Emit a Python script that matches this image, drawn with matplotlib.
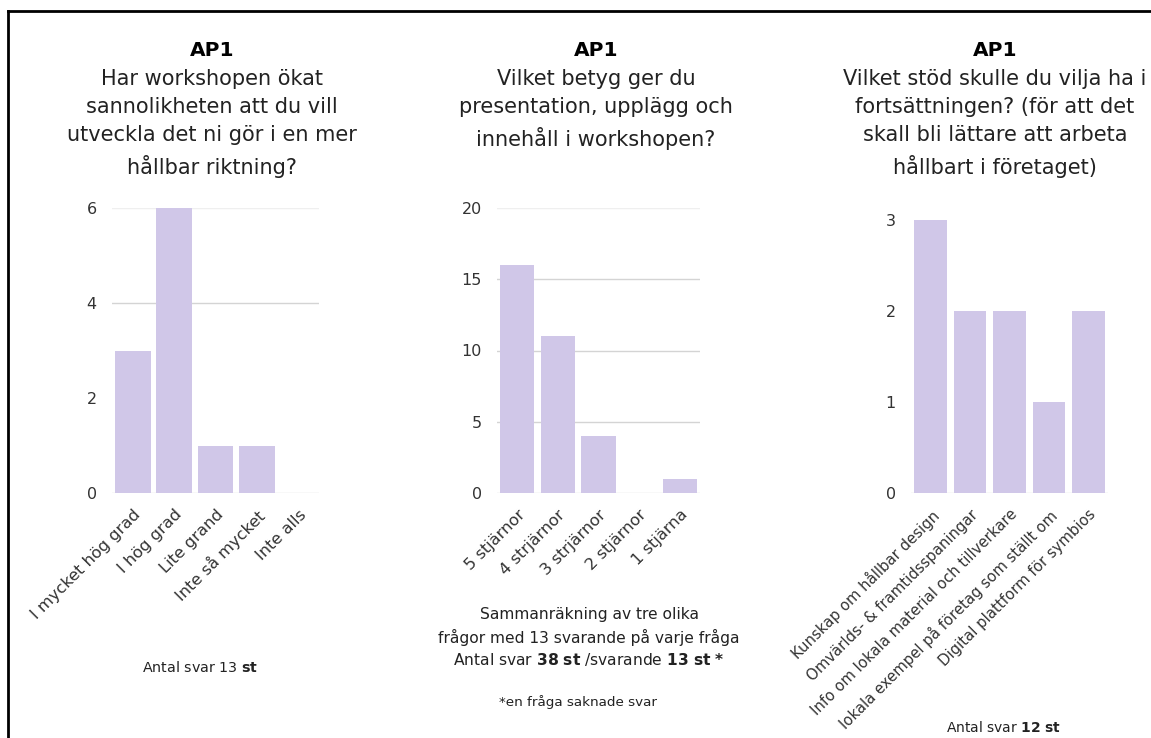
import matplotlib.pyplot as plt
from matplotlib.lines import Line2D

plt.rcParams['font.family'] = ['DejaVu Sans']
plt.rcParams['mathtext.fontset'] = 'custom'
plt.rcParams['mathtext.rm'] = 'DejaVu Sans'
plt.rcParams['mathtext.bf'] = 'DejaVu Sans:bold'

# --- data ---
q1_labels = ['I mycket hög grad', 'I hög grad', 'Lite grand', 'Inte så mycket', 'Inte alls']
q1_values = [3, 6, 1, 1, 0]
q1_ticks = [0, 2, 4, 6]

q2_labels = ['5 stjärnor', '4 strjärnor', '3 strjärnor', '2 stjärnor', '1 stjärna']
q2_values = [16, 11, 4, 0, 1]
q2_ticks = [0, 5, 10, 15, 20]

q3_labels = ['Kunskap om hållbar design', 'Omvärlds- & framtidsspaningar',
             'Info om lokala material och tillverkare',
             'lokala exempel på företag som ställt om',
             'Digital plattform för symbios']
q3_values = [3, 2, 2, 1, 2]
q3_ticks = [0, 1, 2, 3]

titles = [
    'Har workshopen ökat\nsannolikheten att du vill\nutveckla det ni gör i en mer\nhållbar riktning?',
    'Vilket betyg ger du\npresentation, upplägg och\ninnehåll i workshopen?',
    'Vilket stöd skulle du vilja ha i\nfortsättningen? (för att det\nskall bli lättare att arbeta\nhållbart i företaget)',
]

bar_col = '#d0c7e8'
txt_col = '#222222'
W, H = 1151, 738

fig = plt.figure(figsize=(W / 100, H / 100), dpi=100)

# black frame on top and left edge
fig.add_artist(Line2D([8 / W, 1], [1 - 11 / H, 1 - 11 / H], color='black', lw=2))
fig.add_artist(Line2D([8 / W, 8 / W], [0, 1 - 11 / H], color='black', lw=2))


def panel(rect, labels, values, ticks, grid_vals, faint_vals, width, lab_size=11.7):
    ax = fig.add_axes(rect)
    x = range(len(values))
    ax.bar(x, values, width=width, color=bar_col, zorder=2)
    ax.set_xlim(-0.5, len(values) - 0.5)
    ax.set_ylim(0, ticks[-1])
    ax.set_yticks(ticks)
    ax.set_xticks(list(x))
    ax.set_xticklabels(labels, rotation=45, ha='right', rotation_mode='anchor',
                       fontsize=lab_size, color=txt_col)
    ax.tick_params(length=0, labelcolor='#333333')
    ax.tick_params(axis='y', pad=11, labelsize=11.5)
    ax.tick_params(axis='x', pad=10)
    for g in grid_vals:
        ax.axhline(g, color='#d4d4d4', lw=1, zorder=1)
    for g in faint_vals:
        ax.axhline(g, color='#efefef', lw=1, zorder=1)
    ax.axhline(0, color='#dcdcdc', lw=1, zorder=1)
    for s in ax.spines.values():
        s.set_visible(False)
    return ax


panel([112 / W, 1 - 493 / H, 207 / W, 285 / H], q1_labels, q1_values, q1_ticks, [4], [6], 0.86)
panel([497 / W, 1 - 493 / H, 203 / W, 285 / H], q2_labels, q2_values, q2_ticks, [5, 10, 15], [20], 0.84)
panel([911 / W, 1 - 493 / H, 197 / W, 273 / H], q3_labels, q3_values, q3_ticks, [], [], 0.83,
      lab_size=10.7)

# titles
centers = [212, 596, 995]
for cx, t in zip(centers, titles):
    fig.text(cx / W, 1 - 50 / H, 'AP1', ha='center', va='center', fontsize=14.5,
             fontweight='bold', color='black')
    fig.text(cx / W, 1 - 69 / H, t, ha='center', va='top', fontsize=15,
             color=txt_col, linespacing=1.5)

# notes under the charts
fig.text(200 / W, 1 - 668 / H, r'Antal svar 13 $\mathbf{st}$', ha='center', va='center',
         fontsize=10.3, color=txt_col)
fig.text(589 / W, 1 - 615 / H, 'Sammanräkning av tre olika', ha='center', va='center',
         fontsize=11.2, color=txt_col)
fig.text(589 / W, 1 - 637 / H, 'frågor med 13 svarande på varje fråga', ha='center',
         va='center', fontsize=11.2, color=txt_col)
fig.text(589 / W, 1 - 659 / H, r'Antal svar $\mathbf{38\ st}$ /svarande $\mathbf{13\ st\ {*}}$',
         ha='center', va='center', fontsize=11.2, color=txt_col)
fig.text(578 / W, 1 - 702 / H, '*en fråga saknade svar', ha='center', va='center',
         fontsize=9.7, color=txt_col)
fig.text(1003 / W, 1 - 727 / H, r'Antal svar $\mathbf{12\ st}$', ha='center', va='center',
         fontsize=10, color=txt_col)

fig.savefig('out.png', dpi=100, facecolor='white')
